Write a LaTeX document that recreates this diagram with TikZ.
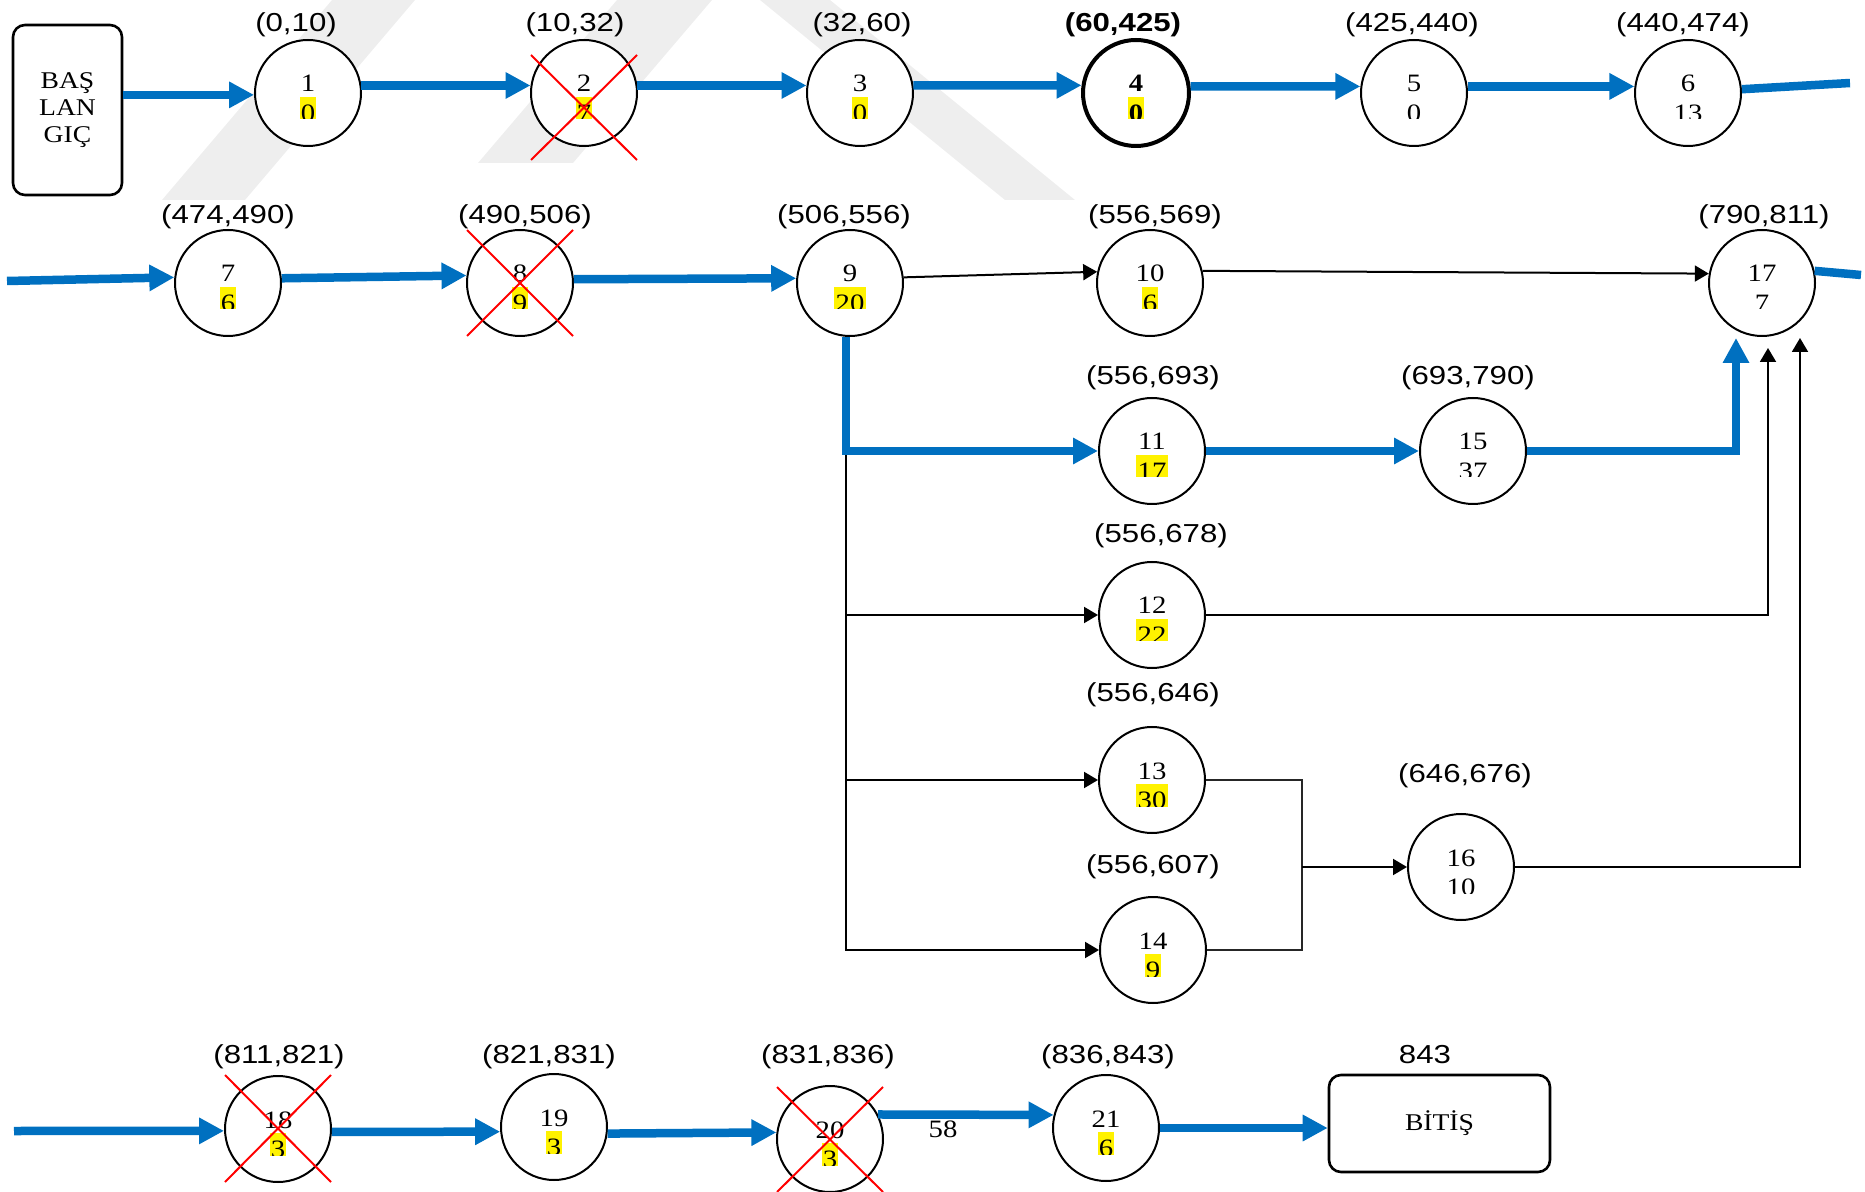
\documentclass[tikz,border=0pt]{standalone}
\usepackage{fontspec}
\setmainfont[FakeStretch=1.15]{Liberation Serif}
\newfontfamily\arialf[FakeStretch=1.2]{Liberation Sans}
\usetikzlibrary{arrows.meta,calc}
\definecolor{bl}{HTML}{0070C0}
\definecolor{wm}{HTML}{EEEEEE}
\newcommand\hl[1]{\setlength{\fboxsep}{0pt}\colorbox{yellow}{\kern0.6pt\rule{0pt}{12.3pt}#1\kern0.6pt}}
\newcommand\cnode[6][]{%
  \node[nd,#1] (#2) at (#3,#4) {};
  \node[numt] (#2t) at ($(#2.center)+(0,-1)$) {#5};
  \begin{scope}
    \clip ($(#2.center)+(-45,0)$) rectangle ($(#2.center)+(45,26)$);
    \node[numt] (#2b) at ($(#2.center)+(0,28.5)$) {#6};
  \end{scope}}
\begin{document}
\begin{tikzpicture}[x=0.5pt,y=-0.5pt,
  nd/.style={circle,draw,fill=white,line width=1pt,minimum size=53pt,inner sep=0pt},
  numt/.style={anchor=base,inner sep=0pt,font=\fontsize{12.5}{14}\selectfont},
  lab/.style={anchor=base,inner sep=0pt,font=\arialf\fontsize{13}{15}\selectfont},
  boxs/.style={draw,rounded corners=6pt,line width=1.3pt,fill=white,inner sep=0pt,align=center,font=\fontsize{12}{13.5}\selectfont},
  barr/.style={bl,line width=4.25pt,-{Triangle[length=12.5pt,width=12.5pt]}},
  bline/.style={bl,line width=4.25pt},
  karr/.style={black,line width=1pt,-{Triangle[length=7pt,width=8pt]}},
  tline/.style={black!85,line width=0.7pt},
  rx/.style={red,line width=1pt}]
\useasboundingbox (0,0) rectangle (1865,1192);
% watermark
\fill[wm] (332,0) -- (415,0) -- (245,200) -- (162,200) -- cycle;
\fill[wm] (617,0) -- (712,0) -- (573,163) -- (478,163) -- cycle;
\fill[wm] (760,0) -- (830,0) -- (1075,200) -- (1005,200) -- cycle;
% start / end boxes
\node[boxs,minimum width=54.5pt,minimum height=85pt] (start) at (67.5,110) {BAŞ\\LAN\\GIÇ};
\node[boxs,minimum width=110.5pt,minimum height=48.5pt] (bitis) at (1439.5,1123.5) {BİTİŞ};
% row 1
\cnode{n1}{308}{93}{1}{\hl{0}}
\cnode{n2}{584}{93}{2}{\hl{7}}
\cnode{n3}{860}{93}{3}{\hl{0}}
\cnode[line width=2pt]{n4}{1136}{93}{\textbf{4}}{\hl{\textbf{0}}}
\cnode{n5}{1414}{93}{5}{0}
\cnode{n6}{1688}{93}{6}{13}
% row 2
\cnode{n7}{228}{283}{7}{\hl{6}}
\cnode{n8}{520}{283}{8}{\hl{9}}
\cnode{n9}{850}{283}{9}{\hl{20}}
\cnode{n10}{1150}{283}{10}{\hl{6}}
\cnode{n17}{1762}{283}{17}{7}
\cnode{n11}{1152}{451}{11}{\hl{17}}
\cnode{n15}{1473}{451}{15}{37}
\cnode{n12}{1152}{615}{12}{\hl{22}}
\cnode{n13}{1152}{780}{13}{\hl{30}}
\cnode{n14}{1153}{950}{14}{\hl{9}}
\cnode{n16}{1461}{867}{16}{10}
% row 4
\cnode{n18}{278}{1129}{18}{\hl{3}}
\cnode{n19}{554}{1127}{19}{\hl{3}}
\cnode{n20}{830}{1139}{20}{\hl{3}}
\cnode{n21}{1106}{1128}{21}{\hl{6}}
% labels
\node[lab] (l1) at (296,32) {(0,10)};
\node[lab] (l2) at (575,32) {(10,32)};
\node[lab] (l3) at (862,32) {(32,60)};
\node[lab] (l4) at (1123,32) {\bfseries(60,425)};
\node[lab] (l5) at (1412,32) {(425,440)};
\node[lab] (l6) at (1683,32) {(440,474)};
\node[lab] (l7) at (228,224) {(474,490)};
\node[lab] (l8) at (525,224) {(490,506)};
\node[lab] (l9) at (844,224) {(506,556)};
\node[lab] (l10) at (1155,224) {(556,569)};
\node[lab] (l17) at (1764,224) {(790,811)};
\node[lab] (l11) at (1153,385) {(556,693)};
\node[lab] (l15) at (1468,385) {(693,790)};
\node[lab] (l12) at (1161,543) {(556,678)};
\node[lab] (l13) at (1153,702) {(556,646)};
\node[lab] (l16) at (1465,782) {(646,676)};
\node[lab] (l14) at (1153,873) {(556,607)};
\node[lab] (l18) at (279,1063) {(811,821)};
\node[lab] (l19) at (549,1063) {(821,831)};
\node[lab] (l20) at (828,1063) {(831,836)};
\node[lab] (l21) at (1108,1063) {(836,843)};
\node[lab] (lend) at (1425,1063) {843};
\node[numt] (t58) at (943,1137) {58};
% row 1 connectors
\draw[barr] (start.east |- n1.182) -- (n1.182);
\draw[barr] (n1.8) -- (n2.172);
\draw[barr] (n2.8) -- (n3.172);
\draw[barr] (n3.8) -- (n4.172);
\draw[barr] (n4.7) -- (n5.173);
\draw[barr] (n5.7) -- (n6.173);
\coordinate (e1) at (1850,83);
\draw[bline] (n6.4) -- (e1);
% row 2 connectors
\coordinate (s2) at (7,281);
\draw[barr] (s2) -- (n7.174);
\draw[barr] (n7.5) -- (n8.172);
\draw[barr] (n8.4) -- (n9.175);
\draw[karr] (n9.6) -- (n10.168);
\draw[karr] (n10.13) -- (n17.170);
\coordinate (e2) at (1861,275);
\draw[bline] (n17.13) -- (e2);
% branches
\coordinate (tr) at (n9.266 |- n11.west);
\draw[karr] (tr) |- (n14.west);
\draw[karr] (tr |- n12.west) -- (n12.west);
\draw[karr] (tr |- n13.west) -- (n13.west);
\draw[barr] (n9.266) |- (n11.west);
\draw[barr] (n11.east) -- (n15.west);
\coordinate (t17a) at ($(n17.south)+(-26,1)$);
\coordinate (t17b) at ($(n17.south)+(6,11)$);
\coordinate (t17c) at ($(n17.south)+(38,1)$);
\draw[barr] (n15.east) -| (t17a);
\draw[karr] (n12.east) -| (t17b);
\draw[karr] (n16.east) -| (t17c);
\coordinate (br) at (1302,867);
\draw[tline] (n13.east) -- (br |- n13.east) -- (br |- n14.east) -- (n14.east);
\draw[karr] (br |- n16.west) -- (n16.west);
% row 4 connectors
\coordinate (s4) at (14,1131);
\draw[barr] (s4) -- (n18.182);
\draw[barr] (n18.-3) -- (n19.185);
\draw[barr] (n19.-7) -- (n20.173);
\draw[barr] (n20.27) -- (n21.166);
\draw[barr] (n21.east) -- (n21.east -| bitis.west);
% red crosses
\draw[rx] ($(n2)+(-53,-38)$) -- ($(n2)+(53,67)$) ($(n2)+(53,-38)$) -- ($(n2)+(-53,67)$);
\draw[rx] ($(n8)+(-53,-53)$) -- ($(n8)+(53,53)$) ($(n8)+(53,-53)$) -- ($(n8)+(-53,53)$);
\draw[rx] ($(n18)+(-53,-54)$) -- ($(n18)+(53,53)$) ($(n18)+(53,-54)$) -- ($(n18)+(-53,53)$);
\draw[rx] ($(n20)+(-53,-52)$) -- ($(n20)+(53,53)$) ($(n20)+(53,-52)$) -- ($(n20)+(-53,53)$);
\end{tikzpicture}
\end{document}
